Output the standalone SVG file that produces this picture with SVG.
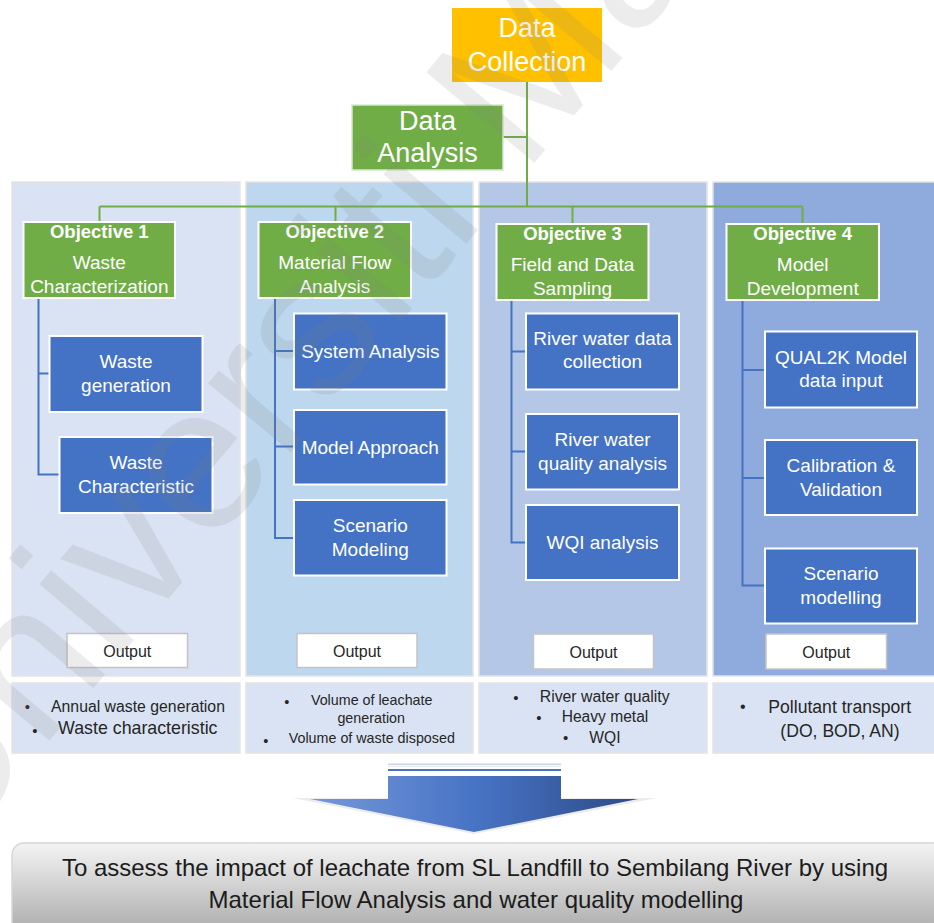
<svg xmlns="http://www.w3.org/2000/svg" width="934" height="923" viewBox="0 0 934 923">
  <defs>
    <style>
      text { font-family: "Liberation Sans", Arial, sans-serif; }
      .col { stroke: #e4e4e4; stroke-width: 1.5; }
      .green { fill: #70AD47; stroke: #ffffff; stroke-width: 2; }
      .blue { fill: #4472C4; stroke: #ffffff; stroke-width: 2; }
      .out { fill: #ffffff; stroke: #c4c4c4; stroke-width: 1.5; }
      .wt { fill: #ffffff; text-anchor: middle; }
      .big { font-size: 27px; }
      .objt { font-size: 18.5px; font-weight: bold; }
      .objs { font-size: 19px; }
      .task { font-size: 19px; }
      .dk { fill: #262626; }
      .mid { text-anchor: middle; }
      .gline { fill: none; stroke: #70AD47; stroke-width: 2; }
      .bline { fill: none; stroke: #4472C4; stroke-width: 2; }
    </style>
    <linearGradient id="arrowFill" x1="0" y1="0" x2="1" y2="0">
      <stop offset="0" stop-color="#7598D8"/>
      <stop offset="0.5" stop-color="#4874C6"/>
      <stop offset="1" stop-color="#2C4A86"/>
    </linearGradient>
    <linearGradient id="goalFill" x1="0" y1="0" x2="0" y2="1">
      <stop offset="0" stop-color="#F4F4F4"/>
      <stop offset="1" stop-color="#A3A3A3"/>
    </linearGradient>
  </defs>

  <rect width="934" height="923" fill="#ffffff"/>

  <!-- column panels -->
  <g id="panels">
    <rect class="col" x="12" y="182" width="228" height="494" fill="#DAE3F3"/>
    <rect class="col" x="246" y="182" width="227" height="494" fill="#BDD7EE"/>
    <rect class="col" x="479" y="182" width="228" height="494" fill="#B4C7E7"/>
    <rect class="col" x="713" y="182" width="225" height="494" fill="#8FAADC"/>
    <rect class="col" x="12" y="683" width="228" height="70" fill="#DAE3F3"/>
    <rect class="col" x="246" y="683" width="227" height="70" fill="#DAE3F3"/>
    <rect class="col" x="479" y="683" width="228" height="70" fill="#DAE3F3"/>
    <rect class="col" x="713" y="683" width="225" height="70" fill="#DAE3F3"/>
  </g>

  <!-- connectors -->
  <g id="connectors">
    <path class="gline" d="M527 82 V206.5 M503 137 H527 M99.5 206.5 H802.5 M99.5 206.5 V222 M335.5 206.5 V222 M572.5 206.5 V224 M802.5 206.5 V224"/>
    <path class="bline" d="M38.5 298 V474.5 H59.5 M38.5 373.5 H49.5"/>
    <path class="bline" d="M275 298 V538 H294 M275 351 H294 M275 446.5 H294"/>
    <path class="bline" d="M511.5 300 V542.5 H526 M511.5 351.5 H526 M511.5 451.5 H526"/>
    <path class="bline" d="M742.5 300 V585.5 H765 M742.5 370 H765 M742.5 478 H765"/>
  </g>

  <g id="data-collection">
    <rect x="452" y="8" width="150" height="74" fill="#FFC000"/>
    <text class="wt big" x="527" y="37">Data</text>
    <text class="wt big" x="527" y="71">Collection</text>
  </g>

  <g id="data-analysis">
    <rect x="352" y="105" width="151" height="65" fill="#70AD47" stroke="#d9e7cf" stroke-width="1.5"/>
    <text class="wt big" x="427.5" y="129.5">Data</text>
    <text class="wt big" x="427.5" y="162">Analysis</text>
  </g>

  <g id="objective-1">
    <rect class="green" x="23.5" y="222" width="151.5" height="76"/>
    <text class="wt objt" x="99.3" y="237.5">Objective 1</text>
    <text class="wt objs" x="99.3" y="269">Waste</text>
    <text class="wt objs" x="99.3" y="292.5">Characterization</text>
  </g>
  <g id="objective-2">
    <rect class="green" x="258.5" y="222" width="152.5" height="76"/>
    <text class="wt objt" x="334.8" y="237.5">Objective 2</text>
    <text class="wt objs" x="334.8" y="269">Material Flow</text>
    <text class="wt objs" x="334.8" y="292.5">Analysis</text>
  </g>
  <g id="objective-3">
    <rect class="green" x="496.5" y="224" width="152" height="76"/>
    <text class="wt objt" x="572.5" y="239.5">Objective 3</text>
    <text class="wt objs" x="572.5" y="271">Field and Data</text>
    <text class="wt objs" x="572.5" y="294.5">Sampling</text>
  </g>
  <g id="objective-4">
    <rect class="green" x="726.5" y="224" width="152.5" height="76"/>
    <text class="wt objt" x="802.7" y="239.5">Objective 4</text>
    <text class="wt objs" x="802.7" y="271">Model</text>
    <text class="wt objs" x="802.7" y="294.5">Development</text>
  </g>

  <!-- objective 1 tasks -->
  <g id="waste-generation">
    <rect class="blue" x="49.5" y="336" width="153" height="76"/>
    <text class="wt task" x="126" y="368">Waste</text>
    <text class="wt task" x="126" y="391.5">generation</text>
  </g>
  <g id="waste-characteristic">
    <rect class="blue" x="59.5" y="437" width="153" height="76"/>
    <text class="wt task" x="136" y="469">Waste</text>
    <text class="wt task" x="136" y="492.5">Characteristic</text>
  </g>

  <!-- objective 2 tasks -->
  <g id="system-analysis">
    <rect class="blue" x="294" y="313.5" width="152.5" height="76"/>
    <text class="wt task" x="370.3" y="358">System Analysis</text>
  </g>
  <g id="model-approach">
    <rect class="blue" x="294" y="410" width="152.5" height="74.5"/>
    <text class="wt task" x="370.3" y="453.5">Model Approach</text>
  </g>
  <g id="scenario-modeling">
    <rect class="blue" x="294" y="500" width="152.5" height="75.5"/>
    <text class="wt task" x="370.3" y="532">Scenario</text>
    <text class="wt task" x="370.3" y="555.5">Modeling</text>
  </g>

  <!-- objective 3 tasks -->
  <g id="river-data-collection">
    <rect class="blue" x="526" y="313.5" width="153" height="76"/>
    <text class="wt task" x="602.5" y="344.5">River  water data</text>
    <text class="wt task" x="602.5" y="368">collection</text>
  </g>
  <g id="river-quality-analysis">
    <rect class="blue" x="526" y="414" width="153" height="75.5"/>
    <text class="wt task" x="602.5" y="446">River  water</text>
    <text class="wt task" x="602.5" y="469.5">quality analysis</text>
  </g>
  <g id="wqi-analysis">
    <rect class="blue" x="526" y="505" width="153" height="75"/>
    <text class="wt task" x="602.5" y="548.5">WQI analysis</text>
  </g>

  <!-- objective 4 tasks -->
  <g id="qual2k-input">
    <rect class="blue" x="765" y="331.5" width="152" height="76"/>
    <text class="wt task" x="841" y="363.5">QUAL2K Model</text>
    <text class="wt task" x="841" y="387">data input</text>
  </g>
  <g id="calibration-validation">
    <rect class="blue" x="765" y="440" width="152" height="75"/>
    <text class="wt task" x="841" y="472">Calibration &amp;</text>
    <text class="wt task" x="841" y="495.5">Validation</text>
  </g>
  <g id="scenario-modelling">
    <rect class="blue" x="765" y="548.5" width="152" height="75"/>
    <text class="wt task" x="841" y="580">Scenario</text>
    <text class="wt task" x="841" y="603.5">modelling</text>
  </g>

  <!-- output labels -->
  <g id="output-1">
    <rect class="out" x="67" y="633.5" width="120.5" height="34"/>
    <text class="dk mid" x="127.3" y="656.5" font-size="16px">Output</text>
  </g>
  <g id="output-2">
    <rect class="out" x="297" y="633.5" width="120" height="34"/>
    <text class="dk mid" x="357" y="656.5" font-size="16px">Output</text>
  </g>
  <g id="output-3">
    <rect class="out" x="533.5" y="634" width="120" height="35"/>
    <text class="dk mid" x="593.5" y="657.5" font-size="16px">Output</text>
  </g>
  <g id="output-4">
    <rect class="out" x="766" y="634" width="120.5" height="35"/>
    <text class="dk mid" x="826.3" y="657.5" font-size="16px">Output</text>
  </g>

  <!-- output details -->
  <g id="results-1" class="dk">
    <text class="mid" x="27.3" y="712" font-size="15px">•</text>
    <text class="mid" x="138" y="711.5" font-size="15.8px">Annual waste generation</text>
    <text class="mid" x="35" y="736" font-size="15px">•</text>
    <text class="mid" x="137.8" y="733.5" font-size="17.8px">Waste characteristic</text>
  </g>
  <g id="results-2" class="dk">
    <text class="mid" x="286.7" y="707" font-size="14.5px">•</text>
    <text class="mid" x="371.7" y="705" font-size="14.3px">Volume of leachate</text>
    <text class="mid" x="371.2" y="722.5" font-size="14.3px">generation</text>
    <text class="mid" x="265.7" y="745.5" font-size="14.5px">•</text>
    <text class="mid" x="371.8" y="743" font-size="14.3px">Volume of waste disposed</text>
  </g>
  <g id="results-3" class="dk">
    <text class="mid" x="516" y="702.5" font-size="15px">•</text>
    <text class="mid" x="604.7" y="701.5" font-size="15.8px">River water quality</text>
    <text class="mid" x="539" y="722.8" font-size="15px">•</text>
    <text class="mid" x="605" y="721.8" font-size="15.6px">Heavy metal</text>
    <text class="mid" x="565.7" y="742.8" font-size="15px">•</text>
    <text class="mid" x="604.9" y="743.3" font-size="15.6px">WQI</text>
  </g>
  <g id="results-4" class="dk">
    <text class="mid" x="742.7" y="711.8" font-size="16px">•</text>
    <text class="mid" x="839.7" y="712.7" font-size="17.6px">Pollutant transport</text>
    <text class="mid" x="840" y="736.7" font-size="17.6px">(DO, BOD, AN)</text>
  </g>

  <!-- downward block arrow -->
  <g id="arrow">
    <polygon points="293,798 657,798 474,834" fill="#ececec"/>
    <line x1="388" y1="764.3" x2="561" y2="764.3" stroke="#cdd4e2" stroke-width="1.5"/>
    <line x1="388" y1="766.3" x2="561" y2="766.3" stroke="#e2e6ee" stroke-width="1"/>
    <line x1="388" y1="770" x2="561" y2="770" stroke="#4A73C0" stroke-width="2"/>
    <path d="M388 776 H561 V799 H638 L474 832 L310 799 H388 Z" fill="url(#arrowFill)"/>
  </g>

  <g id="goal">
    <rect x="12" y="843" width="940" height="100" rx="12" fill="url(#goalFill)" stroke="#d6d6d6" stroke-width="1.5"/>
    <text class="mid" x="475" y="876" font-size="24px" fill="#1c1c1c">To assess the impact of leachate from SL Landfill to Sembilang River by using</text>
    <text class="mid" x="476" y="908" font-size="24px" fill="#1c1c1c">Material Flow Analysis and water quality modelling</text>
  </g>

  <!-- faint diagonal watermark -->
  <text x="-55" y="865" transform="rotate(-50 -55 865)" font-size="205px" fill="#7f7f7f" fill-opacity="0.15" font-family="Liberation Sans, sans-serif">Universiti Malaya</text>
</svg>
